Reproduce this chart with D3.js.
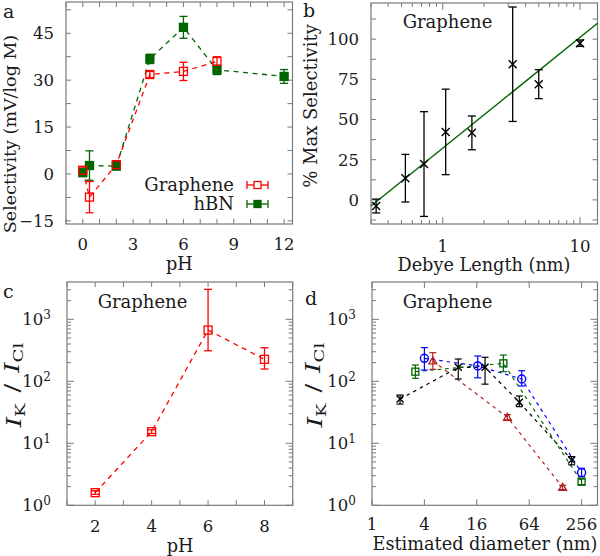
<!DOCTYPE html>
<html><head><meta charset="utf-8">
<script src="https://cdn.jsdelivr.net/npm/d3@7"></script>
<style>
body{margin:0;background:#fff}
svg{display:block}
text{font-family:"DejaVu Serif",serif;fill:#1a1a1a}
</style>
</head><body>
<svg id="chart" width="600" height="556"></svg>
<script>
// ---------- DATA ----------
// Panel a: selectivity vs pH
const aGraphenePH  = [0, 0.4, 2, 4, 6, 8];
const aGrapheneSel = [1.2, -7.4, 3.0, 31.8, 32.8, 36.0];
const aGrapheneErr = [1.0, 5.0, 1.0, 1.0, 2.9, 1.5];
const aHbnPH  = [0, 0.4, 2, 4, 6, 8, 12];
const aHbnSel = [0.4, 2.7, 2.5, 36.8, 46.9, 33.3, 31.2];
const aHbnErr = [1.0, 4.7, 1.0, 1.5, 3.5, 1.5, 2.2];
const aXTickLabels = [0, 3, 6, 9, 12];
const aYTickLabels = [-15, 0, 15, 30, 45];

// Panel b: % max selectivity vs Debye length
const bDebye = [0.327, 0.534, 0.73, 1.05, 1.63, 3.23, 5.0, 10.0];
const bPct   = [-3.8, 13.5, 22.3, 42.3, 41.7, 84.4, 72.0, 97.5];
const bErr   = [4.3, 14.8, 32.6, 26.6, 10.5, 35.6, 9.0, 2.0];
const bFitIntercept = 32.2;   // % at 1 nm
const bFitSlope = 68.9;       // % per decade
const bXTickLabels = [1, 10];
const bYTickLabels = [0, 25, 50, 75, 100];

// Panel c: I_K/I_Cl vs pH (graphene)
const cPH    = [2, 4, 6, 8];
const cRatio = [1.6, 15.4, 672, 226];
const cLow   = [1.5, 14.4, 311, 158];
const cHigh  = [1.72, 16.5, 3040, 348];
const cXTickLabels = [2, 4, 6, 8];
const logYTickExps = [0, 1, 2, 3];

// Panel d: I_K/I_Cl vs estimated diameter
const dBlackDiam  = [2.1, 9.8, 19.9, 49.3, 197];
const dBlackRatio = [51.8, 168, 168, 45.9, 5.4];
const dBlackLow   = [43, 109, 90, 39, 4.5];
const dBlackHigh  = [60, 229, 244, 58, 6.1];
const dBlueDiam   = [4, 16.4, 52.5, 256];
const dBlueRatio  = [235, 177, 109, 3.36];
const dBlueLow    = [152, 114, 84, 2.9];
const dBlueHigh   = [350, 256, 148, 3.96];
const dGreenDiam  = [3.15, 32.3, 256];
const dGreenRatio = [143, 195, 2.4];
const dGreenLow   = [112, 143, 2.15];
const dGreenHigh  = [183, 265, 2.65];
const dRedDiam    = [5, 36, 155];
const dRedRatio   = [213, 26.3, 1.95];
const dRedLow     = [156, 24, 1.8];
const dRedHigh    = [290, 29, 2.1];
const dXTickLabels = [1, 4, 16, 64, 256];

// ---------- STYLE ----------
const FRAME = "#7a7a7a";
const RED = "#ff0000", GREEN = "#006400", BLUE = "#0000ff", BROWN = "#b22222", BLACK = "#000000";
const svg = d3.select("#chart");

function zip(xs, ys, lo, hi) { return xs.map((x, i) => ({x, y: ys[i], lo: lo[i], hi: hi[i]})); }

function frame(g, x, y) {
  const [x0, x1] = x.range(), [y0, y1] = y.range();
  g.append("rect").attr("x", x0).attr("y", y1).attr("width", x1 - x0).attr("height", y0 - y1)
    .attr("fill", "none").attr("stroke", FRAME).attr("stroke-width", 1.2);
}
function xTicks(g, x, y, vals, len) {
  const [y0, y1] = y.range();
  vals.forEach(v => {
    const px = x(v);
    g.append("line").attr("x1", px).attr("x2", px).attr("y1", y0).attr("y2", y0 - len).attr("stroke", FRAME);
    g.append("line").attr("x1", px).attr("x2", px).attr("y1", y1).attr("y2", y1 + len).attr("stroke", FRAME);
  });
}
function yTicks(g, x, y, vals, len) {
  const [x0, x1] = x.range();
  vals.forEach(v => {
    const py = y(v);
    g.append("line").attr("x1", x0).attr("x2", x0 + len).attr("y1", py).attr("y2", py).attr("stroke", FRAME);
    g.append("line").attr("x1", x1).attr("x2", x1 - len).attr("y1", py).attr("y2", py).attr("stroke", FRAME);
  });
}
function xLabels(g, x, vals, baseline) {
  vals.forEach(v => g.append("text").attr("x", x(v)).attr("y", baseline).attr("text-anchor", "middle")
    .attr("font-size", 16.5).text(String(v).replace("-", "\u2212")));
}
function yLabels(g, y, vals, right) {
  vals.forEach(v => g.append("text").attr("x", right).attr("y", y(v)).attr("dy", "0.36em").attr("text-anchor", "end")
    .attr("font-size", 16.5).text(String(v).replace("-", "\u2212")));
}
function logYLabels(g, y, exps, right) {
  exps.forEach(e => {
    const t = g.append("text").attr("x", right).attr("y", y(Math.pow(10, e))).attr("dy", "0.36em")
      .attr("text-anchor", "end").attr("font-size", 16.5);
    t.append("tspan").text("10");
    t.append("tspan").attr("dy", "-0.55em").attr("font-size", 12).text(e);
  });
}
function logMinors(domain) {
  const out = [];
  for (let e = Math.floor(Math.log10(domain[0])); e <= Math.ceil(Math.log10(domain[1])); e++)
    for (let m = 2; m <= 9; m++) { const v = m * Math.pow(10, e); if (v > domain[0] && v < domain[1]) out.push(v); }
  return out;
}
function errorBars(g, x, y, pts, color, cap, sw) {
  pts.forEach(p => {
    const px = x(p.x);
    g.append("line").attr("x1", px).attr("x2", px).attr("y1", y(p.lo)).attr("y2", y(p.hi)).attr("stroke", color).attr("stroke-width", sw);
    [p.lo, p.hi].forEach(v => g.append("line").attr("x1", px - cap).attr("x2", px + cap).attr("y1", y(v)).attr("y2", y(v))
      .attr("stroke", color).attr("stroke-width", sw));
  });
}
function dashedLine(g, x, y, pts, color, dash, sw) {
  g.append("path").attr("d", d3.line().x(p => x(p.x)).y(p => y(p.y))(pts))
    .attr("fill", "none").attr("stroke", color).attr("stroke-width", sw).attr("stroke-dasharray", dash);
}
function squares(g, x, y, pts, color, size, filled) {
  g.selectAll(null).data(pts).join("rect").attr("x", p => x(p.x) - size / 2).attr("y", p => y(p.y) - size / 2)
    .attr("width", size).attr("height", size).attr("fill", filled ? color : "none")
    .attr("stroke", color).attr("stroke-width", 1.3);
}
function crosses(g, x, y, pts, color, s) {
  pts.forEach(p => {
    const px = x(p.x), py = y(p.y);
    g.append("path").attr("d", `M${px - s},${py - s}L${px + s},${py + s}M${px - s},${py + s}L${px + s},${py - s}`)
      .attr("stroke", color).attr("stroke-width", 1.4);
  });
}
function circles(g, x, y, pts, color, r) {
  g.selectAll(null).data(pts).join("circle").attr("cx", p => x(p.x)).attr("cy", p => y(p.y)).attr("r", r)
    .attr("fill", "none").attr("stroke", color).attr("stroke-width", 1.4);
}
function triangles(g, x, y, pts, color, s) {
  pts.forEach(p => {
    const px = x(p.x), py = y(p.y);
    g.append("path").attr("d", `M${px},${py - s}L${px + s},${py + s * 0.75}L${px - s},${py + s * 0.75}Z`)
      .attr("fill", "none").attr("stroke", color).attr("stroke-width", 1.3);
  });
}
function rotLabel(g, x, y, size, stretch) {
  return g.append("text").attr("transform", `translate(${x},${y}) rotate(-90) scale(${stretch || 1},1)`)
    .attr("text-anchor", "middle").attr("font-size", size);
}
function ikLabel(g, x, y) {
  const t = rotLabel(g, x, y, 19.5, 1.35);
  t.append("tspan").attr("font-style", "italic").text("I");
  t.append("tspan").attr("font-size", 13.5).attr("dy", "0.3em").text("K");
  t.append("tspan").attr("dy", "-0.3em").attr("dx", 8).text("/");
  t.append("tspan").attr("font-style", "italic").attr("dx", 8).text("I");
  t.append("tspan").attr("font-size", 13.5).attr("dy", "0.3em").text("Cl");
}

// ---------- PANEL A ----------
{
  const g = svg.append("g");
  const x = d3.scaleLinear().domain([-1, 12.5]).range([66, 292.5]);
  const y = d3.scaleLinear().domain([-16, 55]).range([224, 2]);
  frame(g, x, y);
  xTicks(g, x, y, d3.range(-1, 13, 1), 5);
  yTicks(g, x, y, d3.range(-15, 55, 7.5), 5);
  xLabels(g, x, aXTickLabels, 249.5);
  yLabels(g, y, aYTickLabels, 54);
  const gr = zip(aGraphenePH, aGrapheneSel, aGrapheneSel.map((v, i) => v - aGrapheneErr[i]), aGrapheneSel.map((v, i) => v + aGrapheneErr[i]));
  const hb = zip(aHbnPH, aHbnSel, aHbnSel.map((v, i) => v - aHbnErr[i]), aHbnSel.map((v, i) => v + aHbnErr[i]));
  dashedLine(g, x, y, hb, GREEN, "5,4.5", 1.3);
  dashedLine(g, x, y, gr, RED, "5,4.5", 1.3);
  errorBars(g, x, y, hb, GREEN, 4, 1.3);
  errorBars(g, x, y, gr, RED, 4, 1.3);
  squares(g, x, y, hb, GREEN, 8, true);
  squares(g, x, y, gr, RED, 8, false);
  // legend
  const leg = [{name: "Graphene", c: RED, f: false, yy: 185}, {name: "hBN", c: GREEN, f: true, yy: 204}];
  leg.forEach(l => {
    g.append("text").attr("x", 234).attr("y", l.yy).attr("dy", "0.36em").attr("text-anchor", "end").attr("font-size", 18).text(l.name);
    g.append("line").attr("x1", 247).attr("x2", 268).attr("y1", l.yy).attr("y2", l.yy).attr("stroke", l.c).attr("stroke-width", 1.3);
    [247, 268].forEach(xx => g.append("line").attr("x1", xx).attr("x2", xx).attr("y1", l.yy - 4).attr("y2", l.yy + 4).attr("stroke", l.c).attr("stroke-width", 1.3));
    g.append("rect").attr("x", 254).attr("y", l.yy - 3.5).attr("width", 7).attr("height", 7)
      .attr("fill", l.f ? l.c : "#fff").attr("stroke", l.c).attr("stroke-width", 1.3);
  });
  g.append("text").attr("x", (66 + 292.5) / 2).attr("y", 270).attr("text-anchor", "middle").attr("font-size", 17.7).text("pH");
  rotLabel(g, 16, 134, 17.5).text("Selectivity (mV/log M)");
  g.append("text").attr("x", 3).attr("y", 18).attr("font-size", 19).text("a");
}

// ---------- PANEL B ----------
{
  const g = svg.append("g");
  const x = d3.scaleLog().domain([0.3, 13.4]).range([371, 597.5]);
  const y = d3.scaleLinear().domain([-15, 122.5]).range([224, 3]);
  frame(g, x, y);
  xTicks(g, x, y, logMinors(x.domain()), 4);
  xTicks(g, x, y, bXTickLabels, 7);
  yTicks(g, x, y, d3.range(-12.5, 122, 12.5), 5);
  xLabels(g, x, bXTickLabels, 251.5);
  yLabels(g, y, bYTickLabels, 359);
  // fit line
  const fit = x.domain().map(v => ({x: v, y: bFitIntercept + bFitSlope * Math.log10(v)}));
  g.append("path").attr("d", d3.line().x(p => x(p.x)).y(p => y(p.y))(fit)).attr("stroke", GREEN).attr("stroke-width", 1.4).attr("fill", "none");
  const pts = zip(bDebye, bPct, bPct.map((v, i) => v - bErr[i]), bPct.map((v, i) => v + bErr[i]));
  errorBars(g, x, y, pts, BLACK, 4, 1.3);
  crosses(g, x, y, pts, BLACK, 4);
  g.append("text").attr("x", 447.5).attr("y", 27.5).attr("text-anchor", "middle").attr("font-size", 18).text("Graphene");
  g.append("text").attr("x", 484).attr("y", 270.5).attr("text-anchor", "middle").attr("font-size", 17.7).text("Debye Length (nm)");
  rotLabel(g, 317, 106, 18).text("% Max Selectivity");
  g.append("text").attr("x", 303).attr("y", 17).attr("font-size", 19).text("b");
}

// ---------- PANEL C ----------
{
  const g = svg.append("g");
  const x = d3.scaleLinear().domain([1, 9]).range([67, 292.7]);
  const y = d3.scaleLog().domain([1, 4000]).range([505.3, 282]);
  frame(g, x, y);
  xTicks(g, x, y, d3.range(1, 10, 1), 5);
  yTicks(g, x, y, logMinors(y.domain()), 4);
  yTicks(g, x, y, logYTickExps.map(e => Math.pow(10, e)), 7);
  xLabels(g, x, cXTickLabels, 531.5);
  logYLabels(g, y, logYTickExps, 51);
  const pts = zip(cPH, cRatio, cLow, cHigh);
  dashedLine(g, x, y, pts, RED, "5,4.5", 1.3);
  errorBars(g, x, y, pts, RED, 4, 1.3);
  squares(g, x, y, pts, RED, 8, false);
  g.append("text").attr("x", 142.5).attr("y", 308).attr("text-anchor", "middle").attr("font-size", 18).text("Graphene");
  g.append("text").attr("x", 180).attr("y", 552).attr("text-anchor", "middle").attr("font-size", 17.7).text("pH");
  ikLabel(g, 21, 385);
  g.append("text").attr("x", 3).attr("y", 298).attr("font-size", 19).text("c");
}

// ---------- PANEL D ----------
{
  const g = svg.append("g");
  const x = d3.scaleLog().base(2).domain([1, 390]).range([372, 597.5]);
  const y = d3.scaleLog().domain([1, 4000]).range([505.3, 282]);
  frame(g, x, y);
  xTicks(g, x, y, dXTickLabels, 6);
  yTicks(g, x, y, logMinors(y.domain()), 4);
  yTicks(g, x, y, logYTickExps.map(e => Math.pow(10, e)), 7);
  xLabels(g, x, dXTickLabels, 530);
  logYLabels(g, y, logYTickExps, 356);
  const bk = zip(dBlackDiam, dBlackRatio, dBlackLow, dBlackHigh);
  const bl = zip(dBlueDiam, dBlueRatio, dBlueLow, dBlueHigh);
  const gn = zip(dGreenDiam, dGreenRatio, dGreenLow, dGreenHigh);
  const rd = zip(dRedDiam, dRedRatio, dRedLow, dRedHigh);
  const dash = "3.5,4";
  dashedLine(g, x, y, rd, BROWN, dash, 1.2);
  dashedLine(g, x, y, bk, BLACK, dash, 1.2);
  dashedLine(g, x, y, gn, GREEN, dash, 1.2);
  dashedLine(g, x, y, bl, BLUE, dash, 1.2);
  errorBars(g, x, y, rd, BROWN, 3.5, 1.2);
  errorBars(g, x, y, bk, BLACK, 3.5, 1.2);
  errorBars(g, x, y, gn, GREEN, 3.5, 1.2);
  errorBars(g, x, y, bl, BLUE, 3.5, 1.2);
  triangles(g, x, y, rd, BROWN, 4);
  crosses(g, x, y, bk, BLACK, 3.5);
  squares(g, x, y, gn, GREEN, 7, false);
  circles(g, x, y, bl, BLUE, 4);
  g.append("text").attr("x", 447.5).attr("y", 308).attr("text-anchor", "middle").attr("font-size", 18).text("Graphene");
  g.append("text").attr("x", 485).attr("y", 550).attr("text-anchor", "middle").attr("font-size", 17.7).text("Estimated diameter (nm)");
  ikLabel(g, 322, 385);
  g.append("text").attr("x", 305).attr("y", 305).attr("font-size", 19).text("d");
}
</script>
</body></html>
